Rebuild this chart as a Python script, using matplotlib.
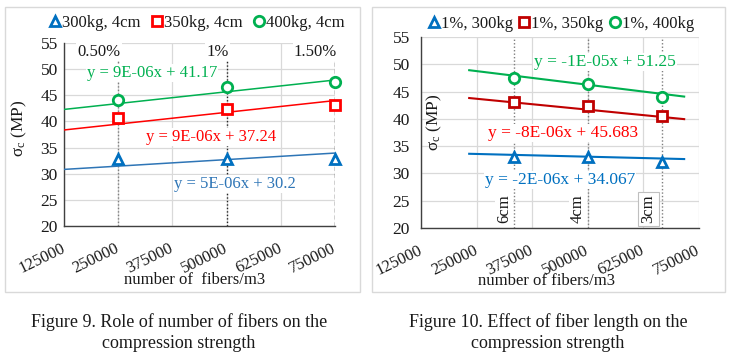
import matplotlib
matplotlib.use("Agg")
import matplotlib.pyplot as plt
from matplotlib.lines import Line2D
from matplotlib.patches import Rectangle
import numpy as np

# ---------------- data ----------------
# Figure 9 (left): number of fibers, 4cm fibers
left_x = [250000, 500000, 750000]
left_pct_labels = ["0.50%", "1%", "1.50%"]
left_300 = [32.9, 32.8, 32.9]
left_350 = [40.6, 42.4, 43.1]
left_400 = [44.1, 46.5, 47.6]
left_series_names = ["300kg, 4cm", "350kg, 4cm", "400kg, 4cm"]
left_slopes = [5e-6, 9e-6, 9e-6]
left_intercepts = [30.2, 37.24, 41.17]
left_eq_labels = ["y = 5E-06x + 30.2", "y = 9E-06x + 37.24", "y = 9E-06x + 41.17"]

# Figure 10 (right): fiber length at 1%
right_x = [333333, 500000, 666667]
right_len_labels = ["6cm", "4cm", "3cm"]
right_300 = [33.0, 33.1, 32.1]
right_350 = [43.0, 42.3, 40.5]
right_400 = [47.5, 46.4, 44.0]
right_series_names = ["1%, 300kg", "1%, 350kg", "1%, 400kg"]
right_slopes = [-2e-6, -8e-6, -1e-5]
right_intercepts = [34.067, 45.683, 51.25]
right_eq_labels = ["y = -2E-06x + 34.067", "y = -8E-06x + 45.683", "y = -1E-05x + 51.25"]

x_ticks = [125000, 250000, 375000, 500000, 625000, 750000]
y_ticks = [20, 25, 30, 35, 40, 45, 50, 55]

# ---------------- style ----------------
plt.rcParams["font.family"] = ["Liberation Serif", "DejaVu Serif"]
plt.rcParams["mathtext.fontset"] = "custom"
plt.rcParams["mathtext.rm"] = "Liberation Serif"
plt.rcParams["mathtext.it"] = "Liberation Serif:italic"

BLUE = "#0070c0"
BLUE_L = "#2e75b6"
RED = "#ff0000"
DRED = "#c00000"
GREEN = "#00b050"
GRID = "#d9d9d9"
SPINE = "#404040"
TXT = "#1a1a1a"

W, H = 731, 364
fig = plt.figure(figsize=(W / 100, H / 100), dpi=100)


def fx(px):
    return px / W


def fy(py):
    return 1 - py / H


# panel frames
for x0, x1 in [(5, 360), (372, 725)]:
    fig.patches.append(Rectangle((fx(x0), fy(292)), fx(x1 - x0), (292 - 7) / H,
                                 transform=fig.transFigure, fill=False,
                                 edgecolor=GRID, lw=1.0, zorder=0))


def base_axes(rect, ypad):
    ax = fig.add_axes(rect)
    ax.set_xlim(125000, 750000)
    ax.set_ylim(20, 55)
    ax.set_xticks(x_ticks)
    ax.set_yticks(y_ticks)
    ax.set_xticklabels([str(t) for t in x_ticks], rotation=26, ha="right",
                       va="center", rotation_mode="anchor")
    ax.tick_params(axis="x", length=0, pad=15.5, labelsize=12, colors=TXT)
    ax.tick_params(axis="y", length=0, pad=ypad, labelsize=12.5, colors=TXT)
    ax.grid(True, color=GRID, lw=0.9, zorder=0)
    ax.set_axisbelow(True)
    for s in ["top", "right"]:
        ax.spines[s].set_visible(False)
    for s in ["left", "bottom"]:
        ax.spines[s].set_color(SPINE)
        ax.spines[s].set_linewidth(1.0)
        ax.spines[s].set_zorder(2)
    return ax


# ---------------- left panel ----------------
axL = base_axes([fx(64), fy(226), fx(335 - 64), (226 - 43) / H], 4.5)
vstyles = [dict(color="#7f7f7f", ls=(0, (1, 1.5)), lw=1.0),
           dict(color="#262626", ls=(0, (1, 1.5)), lw=1.0),
           dict(color="#262626", ls=(0, (3, 2)), lw=1.0)]
for xv, st in zip(left_x, vstyles):
    axL.axvline(xv, zorder=1, **st)

xx = np.array([125000, 750000])
left_cols = [(BLUE, BLUE_L, BLUE_L), (RED, RED, RED), (GREEN, GREEN, GREEN)]
left_markers = ["^", "s", "o"]
for m, b, (mc, lc, tc) in zip(left_slopes, left_intercepts, left_cols):
    axL.plot(xx, m * xx + b, color=lc, lw=1.1, zorder=4)
for ys, mk, (mc, lc, tc) in zip([left_300, left_350, left_400], left_markers, left_cols):
    axL.plot(left_x, ys, ls="none", marker=mk, ms=7.5, mfc="white", mec=mc,
             mew=2.0, zorder=6, clip_on=False)

bbox = dict(facecolor="white", edgecolor="none", pad=0.8)
eqL_pos = [(519000, 28.0), (464000, 37.0), (328000, 49.3)]
for (px_, py_), lab, (mc, lc, tc) in zip(eqL_pos, left_eq_labels, left_cols):
    axL.text(px_, py_, lab, color=tc, fontsize=12, ha="center", va="center",
             bbox=bbox, zorder=3)
for xv, lab in zip(left_x, left_pct_labels):
    axL.text(xv + 5000, 53.3, lab, fontsize=12, ha="right", va="center",
             color=TXT, bbox=bbox, zorder=3)

axL.set_ylabel("σ$_\\mathrm{c}$ (MP)", fontsize=12.5, color=TXT)
axL.yaxis.set_label_coords(-0.128, 0.536)
axL.set_xlabel("number of  fibers/m3", fontsize=12, color=TXT)
axL.xaxis.set_label_coords(0.483, -0.25)

hL = [Line2D([], [], ls="none", marker=mk, ms=7.5, mfc="white", mec=c[0], mew=2.0)
      for mk, c in zip(left_markers, left_cols)]
fig.legend(hL, left_series_names, loc="center", bbox_to_anchor=(fx(197), fy(23)),
           ncol=3, frameon=False, fontsize=12, handlelength=0.7, handletextpad=0.1,
           columnspacing=0.6, borderpad=0, labelcolor=TXT)

# ---------------- right panel ----------------
axR = base_axes([fx(421), fy(228), fx(699 - 421), (228 - 37) / H], 8)
for xv in right_x:
    axR.axvline(xv, color="#7f7f7f", ls=(0, (1, 1.5)), lw=1.0, zorder=1)

right_cols = [(BLUE, BLUE, BLUE), (DRED, DRED, RED), (GREEN, GREEN, GREEN)]
xr = np.array([min(right_x) - 100000, max(right_x) + 50000])
for m, b, (mc, lc, tc) in zip(right_slopes, right_intercepts, right_cols):
    axR.plot(xr, m * xr + b, color=lc, lw=1.5, zorder=4)
for ys, mk, (mc, lc, tc) in zip([right_300, right_350, right_400], left_markers, right_cols):
    axR.plot(right_x, ys, ls="none", marker=mk, ms=7.5, mfc="white", mec=mc,
             mew=2.0, zorder=6, clip_on=False)

eqR_pos = [(437500, 28.8), (444000, 37.4), (538700, 50.4)]
for (px_, py_), lab, (mc, lc, tc) in zip(eqR_pos, right_eq_labels, right_cols):
    axR.text(px_, py_, lab, color=tc, fontsize=12.5, ha="center", va="center",
             bbox=bbox, zorder=3)
len_offsets = [-22000, -22000, -30000]
for i, (xv, lab, off) in enumerate(zip(right_x, right_len_labels, len_offsets)):
    bb = dict(facecolor="white", edgecolor="#bfbfbf" if i == 2 else "none",
              pad=2.0 if i == 2 else 0.8, lw=0.8)
    axR.text(xv + off, 20.9, lab, rotation=90, fontsize=12, ha="center",
             va="bottom", color=TXT, bbox=bb, zorder=3)

axR.set_ylabel("σ$_\\mathrm{c}$ (MP)", fontsize=12.5, color=TXT)
axR.yaxis.set_label_coords(0.082, 0.555)
axR.set_xlabel("number of fibers/m3", fontsize=12, color=TXT)
axR.xaxis.set_label_coords(0.453, -0.235)

hR = [Line2D([], [], ls="none", marker=mk, ms=7.5, mfc="white", mec=c[0], mew=2.0)
      for mk, c in zip(left_markers, right_cols)]
fig.legend(hR, right_series_names, loc="center", bbox_to_anchor=(fx(561), fy(24)),
           ncol=3, frameon=False, fontsize=12, handlelength=0.7, handletextpad=0.1,
           columnspacing=0.3, borderpad=0, labelcolor=TXT)

# ---------------- captions ----------------
fig.text(fx(179), fy(322), "Figure 9. Role of number of fibers on the", fontsize=13,
         ha="center", va="center", color=TXT)
fig.text(fx(179), fy(344), "compression strength", fontsize=13,
         ha="center", va="center", color=TXT)
fig.text(fx(548), fy(322), "Figure 10. Effect of fiber length on the", fontsize=13,
         ha="center", va="center", color=TXT)
fig.text(fx(548), fy(344), "compression strength", fontsize=13,
         ha="center", va="center", color=TXT)

fig.savefig("out.png", dpi=100, facecolor="white")
